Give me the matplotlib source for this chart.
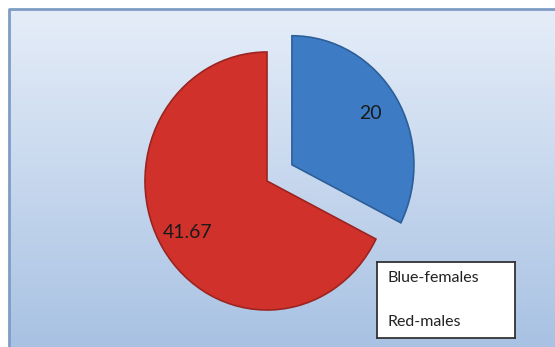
import numpy as np
import matplotlib.pyplot as plt

# data
labels = ["Blue-females", "Red-males"]
values = [20, 41.67]
colors = ["#3d7cc4", "#d0322b"]
edges = ["#2c5f9a", "#9c2420"]

fig = plt.figure(figsize=(5.55, 3.47), dpi=100)
fig.patch.set_facecolor("white")

# background with gradient and border (pixel coords)
bg = fig.add_axes([0, 0, 1, 1])
bg.set_xlim(0, 555)
bg.set_ylim(347, 0)
bg.axis("off")
grad = np.linspace(0, 1, 256).reshape(-1, 1)
top = np.array([0.90, 0.93, 0.975])
bot = np.array([0.66, 0.76, 0.89])
img = top + grad[:, :, None] * (bot - top)
bg.imshow(img, extent=[9, 555, 347, 9], aspect="auto", zorder=0)
bg.plot([9, 9, 555], [347, 9, 9], color="#7d9dc4", lw=2, zorder=1)

# pie axes: 1 unit ~ 122 px wide, 129 px high, red vertex at (267,181)
ax = fig.add_axes([0, 0, 1, 1], facecolor="none")
total = sum(values)

def fmt(p):
    v = p * total / 100
    return f"{v:.2f}".rstrip("0").rstrip(".")

wedges, texts, autotexts = ax.pie(values, colors=colors, startangle=90,
                                  counterclock=False, explode=[0.24, 0],
                                  autopct=fmt, pctdistance=0.76,
                                  wedgeprops=dict(linewidth=1.2),
                                  textprops=dict(fontsize=14, color="#1a1a1a",
                                                 family=["Lato", "DejaVu Sans"]))
for w, e in zip(wedges, edges):
    w.set_edgecolor(e)
ax.set_aspect("auto")
ax.set_xlim(-267 / 122, (555 - 267) / 122)
ax.set_ylim(-(347 - 181) / 129, 181 / 129)
ax.axis("off")

# legend box, text only (no color keys)
lg = fig.add_axes([377 / 555, (347 - 338) / 347, 138 / 555, 76 / 347])
lg.set_xlim(0, 138)
lg.set_ylim(76, 0)
lg.set_xticks([])
lg.set_yticks([])
lg.set_facecolor("white")
for s in lg.spines.values():
    s.set_color("#333333")
    s.set_linewidth(1.3)
for i, lab in enumerate(labels):
    lg.text(11, 16 + i * 44, lab, ha="left", va="center", fontsize=11.5,
            color="#222222", family=["Lato", "DejaVu Sans"])

fig.savefig("out.png", dpi=100)
